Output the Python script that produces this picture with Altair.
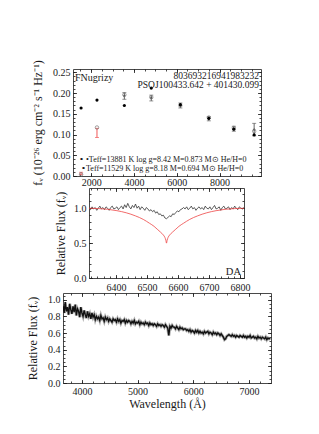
import altair as alt
import pandas as pd

FONT = "Liberation Serif"
INK = "#1a1a1a"
RED = "#ee4444"

# ---------------- panel 1 : photometric SED ----------------
band_names = ["FUV", "NUV", "u", "g", "r", "i", "z", "y"]
band_wl = [1528, 2271, 3551, 4810, 6170, 7500, 8670, 9620]
model1_flux = [0.164, 0.183, 0.170, 0.212, 0.172, 0.139, 0.113, 0.099]
model2_flux = [0.004, 0.117, 0.196, 0.190, 0.170, 0.141, 0.116, 0.108]
obs_wl = [3551, 4810, 6170, 7500, 8670, 9620]
obs_flux = [0.193, 0.188, 0.170, 0.138, 0.114, 0.112]
obs_err = [0.008, 0.007, 0.006, 0.005, 0.006, 0.015]
uv_wl = [1528, 2271]
uv_flux = [0.006, 0.104]
uv_err = [0.003, 0.011]
p1_xticks = [2000, 4000, 6000, 8000]
p1_yticks = [0.0, 0.05, 0.10, 0.15, 0.20, 0.25]
p1_title_tl = "FNugrizy"
p1_title_id = "803693216941983232"
p1_title_name = "PSOJ100433.642 + 401430.099"
p1_leg1 = "∘ •Teff=13881 K  log g=8.42 M=0.873 M⊙  He/H=0"
p1_leg2 = "∘Teff=11529 K  log g=8.18  M=0.694 M⊙  He/H=0"

# ---------------- panel 2 : H-alpha region ----------------
ha_start, ha_step = 6313, 5
ha_obs = [1.00, 0.98, 1.02, 0.99, 1.01, 0.97, 1.00, 1.03, 0.99, 1.01, 0.98, 1.02, 1.00, 0.97, 1.01, 1.03, 0.99, 1.00, 1.02, 0.98, 1.01,
          1.03, 0.99, 1.05, 1.01, 1.07, 1.02, 0.99, 1.04, 1.01, 1.06, 1.00, 1.03, 0.98, 1.02, 1.00, 0.97, 1.01, 0.99, 0.96, 0.98,
          0.95, 0.97, 0.93, 0.95, 0.91, 0.92, 0.89, 0.90, 0.86, 0.85,
          0.87, 0.89, 0.88, 0.92, 0.91, 0.94, 0.96, 0.95, 0.98, 0.99,
          1.01, 0.99, 1.02, 0.98, 1.00, 1.03, 0.99, 1.01, 0.97, 1.00, 1.02, 0.99, 1.01, 0.98, 1.03, 1.00, 0.99, 1.02, 0.98, 1.01,
          1.04, 0.99, 1.00, 1.02, 0.97, 1.01, 1.03, 0.99, 1.00, 1.02, 0.98, 1.01, 0.99, 1.03, 1.00, 0.98, 1.02, 1.00, 0.99, 1.01]
ha_model_wl = [6313, 6343, 6373, 6403, 6433, 6463, 6488, 6508, 6523, 6533, 6543, 6548, 6553, 6558, 6561, 6563,
               6565, 6568, 6573, 6578, 6583, 6593, 6603, 6618, 6638, 6663, 6693, 6723, 6753, 6783, 6813]
ha_model_flux = [1.000, 0.995, 0.985, 0.965, 0.935, 0.890, 0.840, 0.785, 0.740, 0.700, 0.660, 0.640, 0.615, 0.580, 0.540, 0.500,
                 0.540, 0.580, 0.615, 0.640, 0.660, 0.700, 0.740, 0.785, 0.840, 0.890, 0.935, 0.965, 0.985, 0.995, 1.000]
p2_xticks = [6400, 6500, 6600, 6700, 6800]
p2_yticks = [0.0, 0.5, 1.0]
p2_label = "DA"

# ---------------- panel 3 : full spectrum ----------------
sp_start, sp_step = 3660, 20
sp_flux = [0.93, 0.84, 0.97, 0.86, 0.91, 0.82, 0.95, 0.88, 0.83, 0.92,
           0.85, 0.94, 0.81, 0.89, 0.86, 0.79, 0.91, 0.84, 0.80, 0.87,
           0.82, 0.78, 0.86, 0.80, 0.83, 0.77, 0.84, 0.79, 0.82, 0.76,
           0.80, 0.77, 0.79, 0.75, 0.81, 0.77, 0.78, 0.74, 0.79, 0.76,
           0.78, 0.74, 0.77, 0.75, 0.73, 0.77, 0.75, 0.76, 0.73, 0.77,
           0.74, 0.76, 0.72, 0.75, 0.74, 0.76, 0.72, 0.75, 0.73, 0.75,
           0.74, 0.71, 0.74, 0.72, 0.75, 0.71, 0.73, 0.72, 0.74, 0.70,
           0.73, 0.71, 0.72, 0.70, 0.73, 0.71, 0.72, 0.69, 0.72, 0.70,
           0.71, 0.69, 0.71, 0.70, 0.68, 0.71, 0.69, 0.70, 0.68, 0.70,
           0.69, 0.67, 0.70, 0.68, 0.66, 0.57, 0.68, 0.66, 0.69, 0.67,
           0.67, 0.65, 0.68, 0.66, 0.64, 0.67, 0.65, 0.66, 0.64, 0.65,
           0.65, 0.63, 0.64, 0.62, 0.64, 0.61, 0.63, 0.62, 0.60, 0.63,
           0.61, 0.63, 0.60, 0.62, 0.60, 0.61, 0.59, 0.62, 0.60, 0.61,
           0.62, 0.59, 0.61, 0.60, 0.58, 0.61, 0.59, 0.60, 0.58, 0.60,
           0.59, 0.57, 0.59, 0.57, 0.55, 0.52, 0.53, 0.56, 0.57, 0.58,
           0.57, 0.56, 0.58, 0.56, 0.57, 0.55, 0.57, 0.56, 0.55, 0.57,
           0.56, 0.55, 0.57, 0.55, 0.56, 0.54, 0.56, 0.55, 0.57, 0.54,
           0.55, 0.56, 0.54, 0.55, 0.53, 0.56, 0.54, 0.55, 0.53, 0.55,
           0.54, 0.53, 0.55, 0.52, 0.54, 0.53, 0.54]
p3_xticks = [4000, 5000, 6000, 7000]
p3_yticks = [0.0, 0.2, 0.4, 0.6, 0.8, 1.0]

TMAJ = 3.5
TMIN = 2.0


def frame(dom_x, dom_y, rng_x, rng_y, a, b, xmaj, xmin, ymaj, ymin, xfmt, yfmt,
          xtitle, ytitle, xpad, ytpad):
    d = pd.DataFrame({"x": [dom_x[0]], "y": [dom_y[0]]})

    def sx():
        return alt.Scale(domain=dom_x, range=rng_x, nice=False, zero=False)

    def sy():
        return alt.Scale(domain=dom_y, range=rng_y, nice=False, zero=False)

    base = dict(grid=False, minExtent=0, labelOverlap=False, labelFlush=False)
    pairs = [
        (alt.Axis(orient="bottom", values=xmaj, format=xfmt, ticks=False, domain=True,
                  labelPadding=xpad, title=xtitle, titlePadding=2, **base),
         alt.Axis(orient="left", values=ymaj, format=yfmt, ticks=False, domain=True,
                  labelPadding=3, title=ytitle, titlePadding=ytpad, offset=-a, **base)),
        (alt.Axis(orient="top", ticks=False, labels=False, domain=True, title=None, offset=-b, **base),
         alt.Axis(orient="right", ticks=False, labels=False, domain=True, title=None, **base)),
        (alt.Axis(orient="bottom", values=xmaj, ticks=True, tickSize=TMAJ, labels=False, domain=False,
                  title=None, offset=-TMAJ, **base),
         alt.Axis(orient="left", values=ymaj, ticks=True, tickSize=TMAJ, labels=False, domain=False,
                  title=None, offset=-(a + TMAJ), **base)),
        (alt.Axis(orient="top", values=xmaj, ticks=True, tickSize=TMAJ, labels=False, domain=False,
                  title=None, offset=-(b + TMAJ), **base),
         alt.Axis(orient="right", values=ymaj, ticks=True, tickSize=TMAJ, labels=False, domain=False,
                  title=None, offset=-TMAJ, **base)),
        (alt.Axis(orient="bottom", values=xmin, ticks=True, tickSize=TMIN, labels=False, domain=False,
                  title=None, offset=-TMIN, **base),
         alt.Axis(orient="left", values=ymin, ticks=True, tickSize=TMIN, labels=False, domain=False,
                  title=None, offset=-(a + TMIN), **base)),
        (alt.Axis(orient="top", values=xmin, ticks=True, tickSize=TMIN, labels=False, domain=False,
                  title=None, offset=-(b + TMIN), **base),
         alt.Axis(orient="right", values=ymin, ticks=True, tickSize=TMIN, labels=False, domain=False,
                  title=None, offset=-TMIN, **base)),
    ]
    layers = []
    for ax, ay in pairs:
        layers.append(alt.Chart(d).mark_point(opacity=0).encode(
            x=alt.X("x:Q", scale=sx(), axis=ax),
            y=alt.Y("y:Q", scale=sy(), axis=ay)))
    return layers, sx, sy


# ----- panel 1 -----
W1, H1 = 198, 107
f1, sx1, sy1 = frame([1150, 9940], [0, 0.258], [10, W1], [H1, 0], 10, 0,
                     p1_xticks, [1500 + 500 * k for k in range(17)],
                     p1_yticks, [round(0.01 * k, 2) for k in range(26)],
                     "d", ".2f", None, "fᵥ (10⁻²⁶ erg cm⁻² s⁻¹ Hz⁻¹)", 1, 8)

df_model = pd.DataFrame({"band": band_names, "wl": band_wl, "m1": model1_flux, "m2": model2_flux})
df_obs = pd.DataFrame({"wl": obs_wl, "flux": obs_flux, "err": obs_err})
df_uv = pd.DataFrame({"wl": uv_wl, "flux": uv_flux, "err": uv_err})


def X1(f):
    return alt.X(f, scale=sx1(), axis=None)


def Y1(f):
    return alt.Y(f, scale=sy1(), axis=None)


obs_bars = alt.Chart(df_obs).mark_errorbar(color="#555555", ticks={"size": 4}, thickness=0.9).encode(
    x=X1("wl:Q"), y=Y1("flux:Q"), yError="err:Q")
obs_pts = alt.Chart(df_obs).mark_point(shape="diamond", filled=True, size=8, color="#555555", opacity=1).encode(
    x=X1("wl:Q"), y=Y1("flux:Q"))
uv_bars = alt.Chart(df_uv).mark_errorbar(color=RED, ticks={"size": 4}, thickness=0.9).encode(
    x=X1("wl:Q"), y=Y1("flux:Q"), yError="err:Q")
m2_pts = alt.Chart(df_model).mark_point(shape="circle", filled=False, size=12, color="#777777",
                                        strokeWidth=0.7, opacity=1).encode(x=X1("wl:Q"), y=Y1("m2:Q"))
m1_pts = alt.Chart(df_model).mark_circle(size=10, color="black", opacity=1).encode(x=X1("wl:Q"), y=Y1("m1:Q"))

txt = pd.DataFrame({"t": [0]})


def label(text, x, y, align, size):
    return alt.Chart(txt).mark_text(text=text, align=align, baseline="middle", font=FONT,
                                    fontSize=size, color=INK).encode(x=alt.value(x), y=alt.value(y))


p1 = alt.layer(
    *f1, obs_bars, obs_pts, uv_bars, m2_pts, m1_pts,
    label(p1_title_tl, 12, 9, "left", 10),
    label(p1_title_id, 196, 6.5, "right", 9.5),
    label(p1_title_name, 196, 15.5, "right", 9.5),
    label(p1_leg1, 16, 91, "left", 8),
    label(p1_leg2, 18, 99.5, "left", 8),
).properties(width=W1, height=H1).resolve_axis(x="independent", y="independent")

# ----- panel 2 -----
W2, H2 = 181, 90
f2, sx2, sy2 = frame([6313, 6813], [0, 1.29], [26, W2], [H2, 0], 26, 0,
                     p2_xticks, [6320 + 20 * k for k in range(25)],
                     p2_yticks, [round(0.1 * k, 1) for k in range(13)],
                     "d", ".1f", None, "Relative Flux (fᵥ)", 4, 6)
df_ha = pd.DataFrame({"wl": [ha_start + ha_step * i for i in range(len(ha_obs))], "flux": ha_obs})
df_ham = pd.DataFrame({"wl": ha_model_wl, "flux": ha_model_flux})
ha_line = alt.Chart(df_ha).mark_line(color="#333333", strokeWidth=0.8, clip=True).encode(
    x=alt.X("wl:Q", scale=sx2(), axis=None), y=alt.Y("flux:Q", scale=sy2(), axis=None))
ham_line = alt.Chart(df_ham).mark_line(color=RED, strokeWidth=0.8, clip=True, interpolate="monotone").encode(
    x=alt.X("wl:Q", scale=sx2(), axis=None), y=alt.Y("flux:Q", scale=sy2(), axis=None))
p2 = alt.layer(*f2, ha_line, ham_line, label(p2_label, 178, 84, "right", 10.5)).properties(
    width=W2, height=H2).resolve_axis(x="independent", y="independent")

# ----- panel 3 -----
W3, H3 = 208, 93
f3, sx3, sy3 = frame([3660, 7395], [0, 1.08], [0, W3], [H3, 3], 0, 3,
                     p3_xticks, [3800 + 200 * k for k in range(18)],
                     p3_yticks, [round(0.05 * k, 2) for k in range(22)],
                     "d", ".1f", "Wavelength (Å)", "Relative Flux (fᵥ)", 3, 8)
df_sp = pd.DataFrame({"wl": [sp_start + sp_step * i for i in range(len(sp_flux))], "flux": sp_flux})
sp_under = alt.Chart(df_sp).mark_line(color="#777777", strokeWidth=3, opacity=0.6, clip=True).encode(
    x=alt.X("wl:Q", scale=sx3(), axis=None), y=alt.Y("flux:Q", scale=sy3(), axis=None))
sp_line = alt.Chart(df_sp).mark_line(color="#111111", strokeWidth=1.4, clip=True).encode(
    x=alt.X("wl:Q", scale=sx3(), axis=None), y=alt.Y("flux:Q", scale=sy3(), axis=None))
p3 = alt.layer(*f3, sp_under, sp_line).properties(width=W3, height=H3).resolve_axis(
    x="independent", y="independent")

chart = alt.vconcat(p1, p2, p3, spacing=12, bounds="flush").properties(
    padding={"left": 18, "top": 51, "right": 5, "bottom": 5}
).configure_axis(
    labelFont=FONT, titleFont=FONT, labelFontSize=10, titleFontSize=12, titleFontWeight="normal",
    labelColor=INK, titleColor=INK, domainColor=INK, tickColor=INK, domainWidth=0.8, tickWidth=0.8
).configure_view(strokeWidth=0)

chart.save("out.html", embed_options={"renderer": "svg", "actions": False})
